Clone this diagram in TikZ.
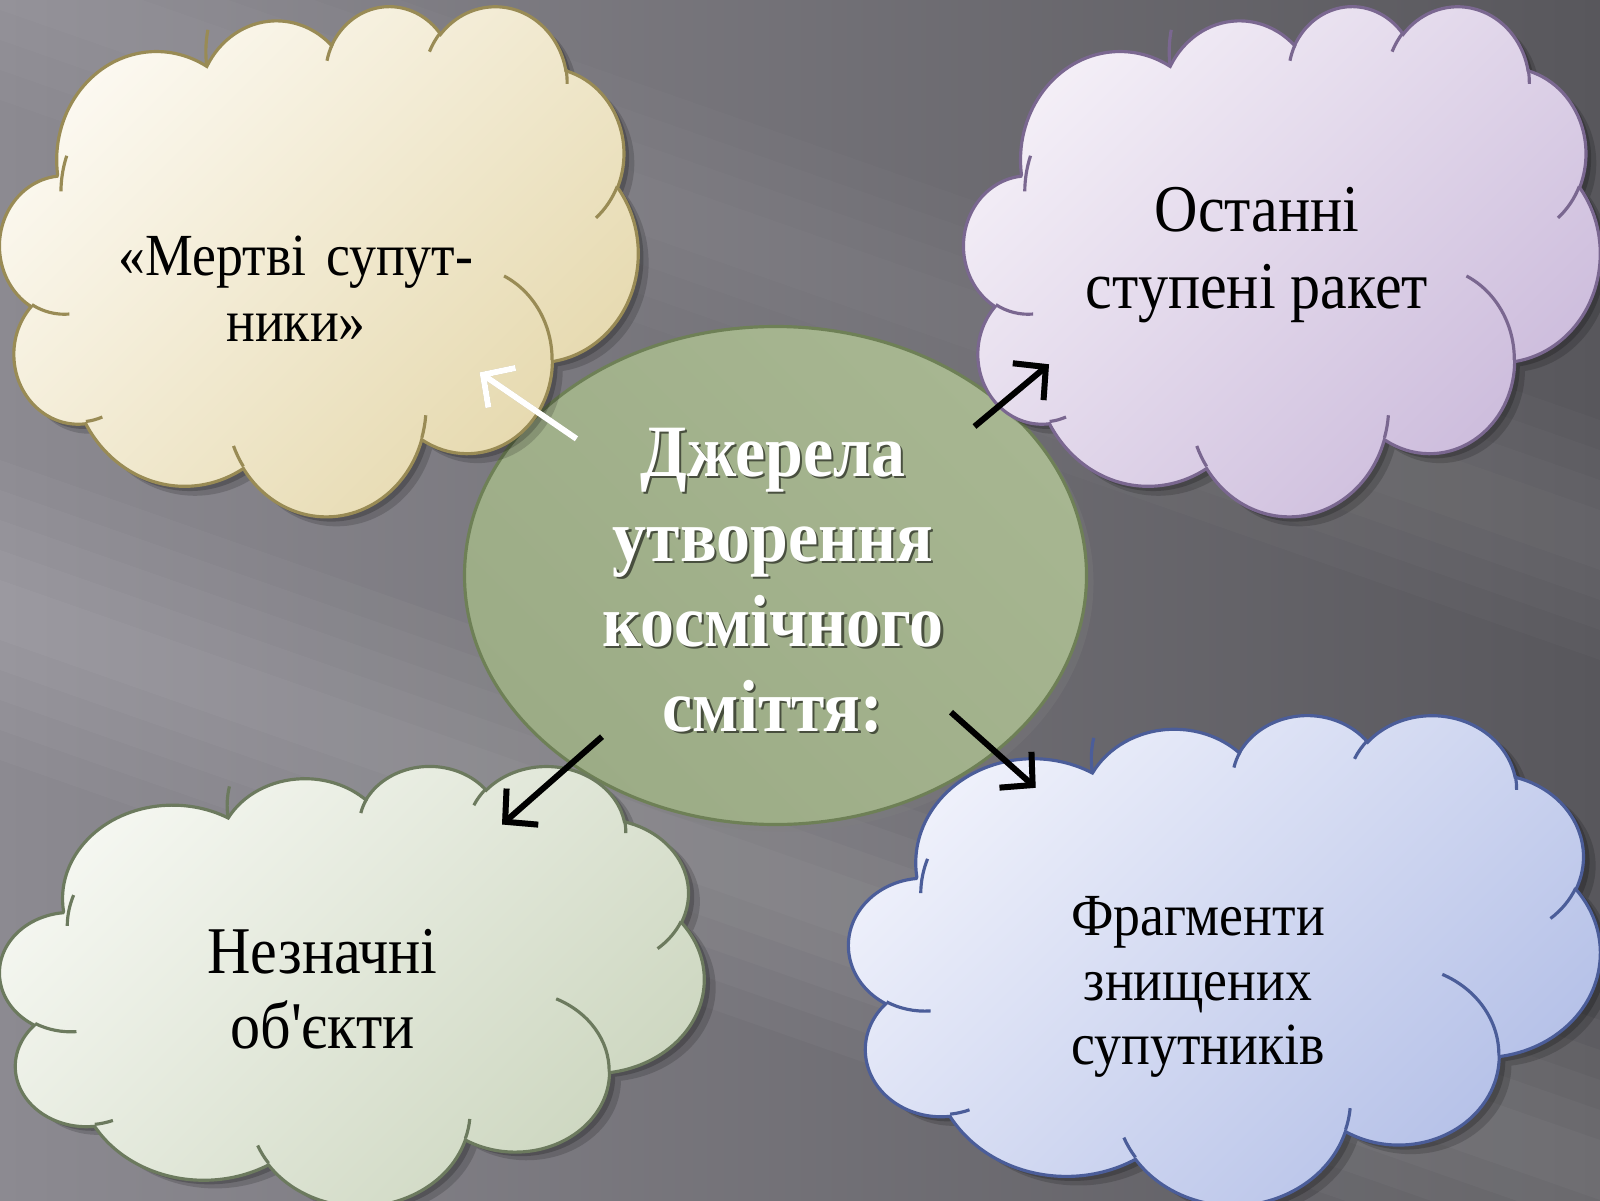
\documentclass[tikz,border=0pt]{standalone}
\usepackage{fontspec}
\usetikzlibrary{positioning,arrows.meta,shapes.geometric,shadows}
\newfontfamily\cloudfont{Liberation Serif}[Ligatures=TeXOff,FakeStretch=0.9]
\newfontfamily\titlefont{Liberation Serif}[FakeStretch=0.92]

\definecolor{bgleft}{HTML}{8C8A91}
\definecolor{bgright}{HTML}{58575C}
\definecolor{tanA}{HTML}{FCF9F1}
\definecolor{tanB}{HTML}{E5D8AC}
\definecolor{tanC}{HTML}{998B55}
\definecolor{lilA}{HTML}{F4EFF7}
\definecolor{lilB}{HTML}{CBBADB}
\definecolor{lilC}{HTML}{7A6790}
\definecolor{sageA}{HTML}{F5F7F1}
\definecolor{sageB}{HTML}{CCD6BF}
\definecolor{sageC}{HTML}{6C7A5E}
\definecolor{bluA}{HTML}{EFF1FB}
\definecolor{bluB}{HTML}{B3BFE7}
\definecolor{bluC}{HTML}{4B5D99}
\definecolor{srcA}{HTML}{A7B691}
\definecolor{srcB}{HTML}{B9C7A5}
\definecolor{srcC}{HTML}{9CAC86}
\definecolor{srcline}{HTML}{6E8056}

% one puff of the cloud outline: x radius, y radius, start angle, sweep
\newcommand\puff[4]{arc[x radius=#1,y radius=#2,
  start angle={atan2(sin(#3)*#1,cos(#3)*#2)},
  delta angle={mod(atan2(sin(#3+#4)*#1,cos(#3+#4)*#2)-atan2(sin(#3)*#1,cos(#3)*#2)+720,360)}]}
\newcommand\cloudoutline{(3.9,14.37)
  \puff{6.753}{9.19}{-190.4875}{123.7805} \puff{5.333}{7.267}{-144.1024}{89.9452}
  \puff{4.365}{5.945}{-145.8079}{99.723} \puff{4.857}{6.595}{-130.9861}{117.2417}
  \puff{5.333}{7.273}{-78.7089}{109.0269} \puff{6.775}{9.22}{-46.2673}{130.269}
  \puff{5.785}{7.867}{0.625}{114.0333} \puff{6.752}{9.215}{22.4516}{115.1726}
  \puff{7.72}{10.543}{66.2426}{75.711} \puff{4.36}{5.918}{-274.9421}{146.7356}
  \puff{4.345}{5.945}{-246.8285}{152.5189} -- cycle}
\newcommand\cloudcreases{(4.693,26.177) \puff{4.345}{5.945}{86.742}{26.4295}
  (6.928,34.899) \puff{4.36}{5.918}{73.6105}{11.4475}
  (16.478,39.09) \puff{6.752}{9.215}{137.6242}{14.0811}
  (28.827,34.751) \puff{6.752}{9.215}{6.4533}{15.9984}
  (34.129,22.954) \puff{5.785}{7.867}{-70.2924}{70.9174}
  (41.798,15.354) \puff{5.333}{7.273}{30.318}{27.7515}
  (38.324,5.426) \puff{4.857}{6.595}{-13.7443}{14.8589}
  (29.078,3.952) \puff{4.857}{6.595}{-149.1815}{18.1954}
  (22.141,4.72) \puff{4.365}{5.945}{-163.4943}{17.6864}
  (14,5.192) \puff{6.753}{9.19}{-190.4875}{26.1349}
  (4.127,15.789) \puff{6.753}{9.19}{180.5391}{25.3156}}
% x, top y, width, height, light, dark, border
\newcommand\cloudblob[7]{%
  \begin{scope}[shift={(#1,#2)},xscale=#3/43.2,yscale=-#4/43.2]
    \fill[black,opacity=.16,shift={(.7,.8)}] \cloudoutline;
    \fill[black,opacity=.2,shift={(.35,.4)}] \cloudoutline;
    \path[skin={#5}{#6}{#7}] \cloudoutline;
    \draw[crease=#7] \cloudcreases;
  \end{scope}}

\tikzset{%
skin/.style n args={3}{top color=#1,bottom color=#2,shading angle=45,draw=#3,line width=.9pt},
crease/.style={draw=#1,line width=.9pt},
cloudtext/.style={align=center,inner sep=0pt,text=black},
srcshape/.style={ellipse,draw=srcline,line width=.9pt,minimum width=6.22cm,minimum height=4.98cm,
  top color=srcA,middle color=srcB,bottom color=srcC,shading angle=-45,
  drop shadow={shadow xshift=.07cm,shadow yshift=-.07cm,opacity=.3}},
srctitle/.style={align=center,inner sep=0pt,font=\titlefont\bfseries\fontsize{21}{24.2}\selectfont},
flow/.style={line width=1.7pt,-{Straight Barb[length=2.3mm,width=4.8mm]}},
flowshade/.style={flow,black,opacity=.18}
}

\begin{document}
\begin{tikzpicture}
  \useasboundingbox (0,0) rectangle (16,12);

  % background with soft light streaks
  \fill[left color=bgleft,right color=bgright] (0,0) rectangle (16,12);
  \begin{scope}
    \clip (0,0) rectangle (16,12);
    \foreach \w in {0.3,0.6,0.9,1.2,1.5}
      \fill[white,opacity=.03] (0,5.9+\w) -- (16,0.3+\w) -- (16,0.3-\w) -- (0,5.9-\w) -- cycle;
    \foreach \w in {0.3,0.6,0.9,1.2}
      \fill[white,opacity=.02] (0,12.2+\w) -- (16,6.6+\w) -- (16,6.6-\w) -- (0,12.2-\w) -- cycle;
  \end{scope}

  \node[srcshape] (src) at (7.755,6.245) {};

  \cloudblob{0}{11.95}{6.38}{5.10}{tanA}{tanB}{tanC}
  \cloudblob{9.64}{11.95}{6.36}{5.10}{lilA}{lilB}{lilC}
  \cloudblob{0}{4.35}{7.04}{4.40}{sageA}{sageB}{sageC}
  \cloudblob{8.49}{4.86}{7.51}{4.90}{bluA}{bluB}{bluC}

  \node[srctitle,text=black,opacity=.55] (srcshade) at (7.752,6.176)
    {Джерела\\утворення\\космічного\\сміття:};
  \node[srctitle,text=white] (srctext) at (7.73,6.2)
    {Джерела\\утворення\\космічного\\сміття:};

  \node[cloudtext,font=\cloudfont\fontsize{17}{18.8}\selectfont] (dead) at (2.96,9.11)
    {«Мертві\hspace{0.1em} супут-\\ники»};
  \node[cloudtext,font=\cloudfont\fontsize{19}{21.8}\selectfont] (stages) at (12.57,9.45)
    {Останні\\ступені ракет};
  \node[cloudtext,font=\cloudfont\fontsize{19}{21.2}\selectfont] (minor) at (3.225,2.11)
    {Незначні\\об'єкти};
  \node[cloudtext,font=\cloudfont\fontsize{17}{18.3}\selectfont] (frags) at (11.98,2.13)
    {Фрагменти\\знищених\\супутників};

  \coordinate (nwtail) at (5.765,7.612);
  \coordinate (netail) at (9.745,7.735);
  \coordinate (swtail) at (6.02,4.633);
  \coordinate (setail) at (9.51,4.878);
  \coordinate (deadtip) at (4.796,8.276);
  \coordinate (stagestip) at (10.49,8.357);
  \coordinate (minortip) at (5.02,3.755);
  \coordinate (fragstip) at (10.357,4.122);

  \begin{scope}[shift={(.05,-.06)}]
    \draw[flowshade] (nwtail) -- (deadtip);
    \draw[flowshade] (netail) -- (stagestip);
    \draw[flowshade] (swtail) -- (minortip);
    \draw[flowshade] (setail) -- (fragstip);
  \end{scope}
  \draw[flow,white] (nwtail) -- (deadtip);
  \draw[flow,black] (netail) -- (stagestip);
  \draw[flow,black] (swtail) -- (minortip);
  \draw[flow,black] (setail) -- (fragstip);

\end{tikzpicture}
\end{document}
